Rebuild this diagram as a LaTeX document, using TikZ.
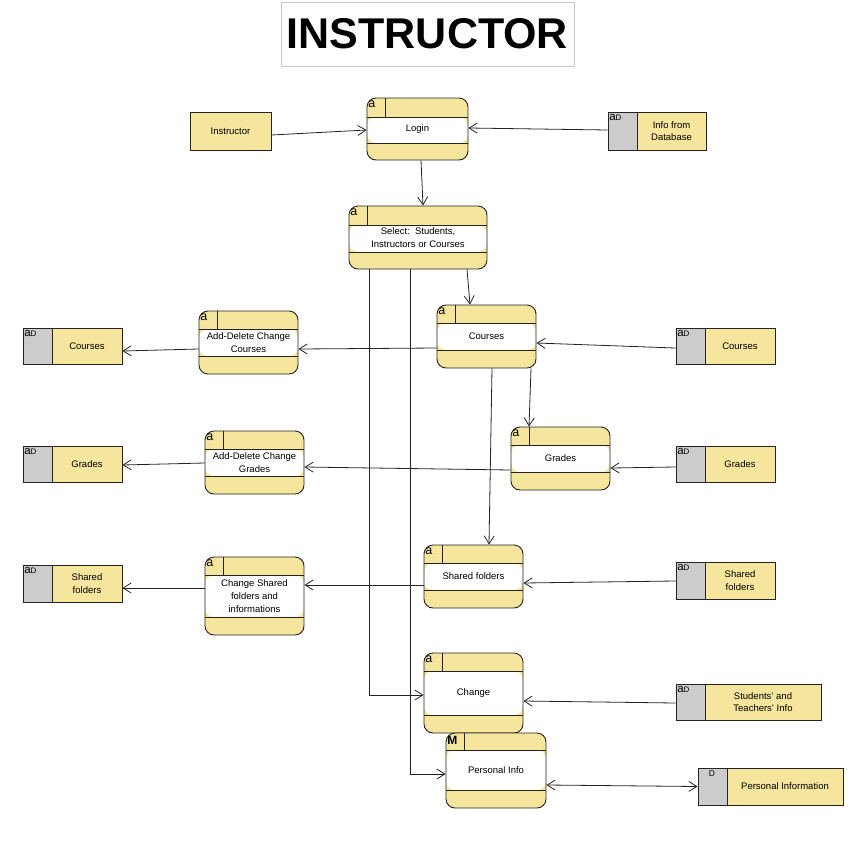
\documentclass[tikz,border=0pt]{standalone}
\usepackage{fontspec}
\setmainfont{Liberation Sans}
\usetikzlibrary{arrows.meta}

\definecolor{boxyellow}{RGB}{245,229,157}
\definecolor{cellgray}{RGB}{204,204,204}
\definecolor{linegray}{RGB}{35,35,35}

\tikzset{
  topband/.store in=\topband, topband=18pt,
  botband/.store in=\botband, botband=18pt,
  proc/.style={rectangle, rounded corners=9pt, draw=linegray, line width=0.9pt,
    fill=boxyellow, align=center, inner sep=0pt, font=\fontsize{9.5}{13}\selectfont,
    path picture={
      \fill[white] ([yshift=-\topband]path picture bounding box.north west)
        rectangle ([yshift=\botband]path picture bounding box.south east);
      \draw[linegray, line width=0.9pt] ([yshift=-\topband]path picture bounding box.north west)
        -- ([yshift=-\topband]path picture bounding box.north east);
      \draw[linegray, line width=0.9pt] ([yshift=\botband]path picture bounding box.south west)
        -- ([yshift=\botband]path picture bounding box.south east);
      \draw[linegray, line width=0.9pt] ([xshift=18.5pt]path picture bounding box.north west)
        -- ([xshift=18.5pt,yshift=-\topband]path picture bounding box.north west);
    }},
  store/.style={rectangle, draw=linegray, line width=0.9pt, fill=boxyellow, inner sep=0pt,
    path picture={
      \fill[cellgray] (path picture bounding box.north west)
        rectangle ([xshift=29pt]path picture bounding box.south west);
      \draw[linegray, line width=0.9pt] ([xshift=29pt]path picture bounding box.north west)
        -- ([xshift=29pt]path picture bounding box.south west);
    }},
  entity/.style={rectangle, draw=linegray, line width=0.9pt, fill=boxyellow, inner sep=0pt,
    font=\fontsize{9.5}{13}\selectfont},
  storetext/.style={align=center, inner sep=0pt, font=\fontsize{9.5}{12.5}\selectfont},
  ptag/.style={anchor=north west, inner xsep=1.5pt, inner ysep=3pt,
    font=\fontsize{12.5}{12.5}\selectfont},
  stag/.style={anchor=north west, inner xsep=1.5pt, inner ysep=3pt},
  flow/.style={linegray, line width=0.8pt, -{Straight Barb[length=8pt,width=10pt]}},
}

\newcommand{\aD}{{\fontsize{11.5}{11}\selectfont a}{\fontsize{8}{8}\selectfont D}}

\begin{document}
\begin{tikzpicture}[x=1pt, y=-1pt]
  \useasboundingbox (0,0) rectangle (854,860);

  \node[draw=black!22, line width=0.9pt, minimum width=293, minimum height=64,
        font=\fontsize{43}{43}\selectfont\bfseries] (title) at (427.5,34) {INSTRUCTOR};

  % processes
  \node[proc, topband=19pt, botband=17pt, minimum width=101, minimum height=62] (login) at (417.5,129) {Login};
  \node[ptag] (loginT) at (login.north west) {a};
  \node[proc, topband=19pt, botband=17pt, minimum width=138, minimum height=63] (select) at (418,237.5)
    {Select:\ \ Students,\\Instructors or Courses};
  \node[ptag] (selectT) at (select.north west) {a};
  \node[proc, minimum width=99, minimum height=63] (crsP) at (486.5,336.5) {Courses};
  \node[ptag] (crsPT) at (crsP.north west) {a};
  \node[proc, minimum width=99, minimum height=63] (adcC) at (248.5,342.5) {Add-Delete Change\\Courses};
  \node[ptag] (adcCT) at (adcC.north west) {a};
  \node[proc, minimum width=99, minimum height=63] (grdP) at (560.5,458.5) {Grades};
  \node[ptag] (grdPT) at (grdP.north west) {a};
  \node[proc, minimum width=99, minimum height=63] (adcG) at (254.5,462.5) {Add-Delete Change\\Grades};
  \node[ptag] (adcGT) at (adcG.north west) {a};
  \node[proc, minimum width=99, minimum height=63] (shP) at (473.5,576.5) {Shared folders};
  \node[ptag] (shPT) at (shP.north west) {a};
  \node[proc, minimum width=99, minimum height=78] (chSh) at (254.5,596)
    {Change Shared\\folders and\\informations};
  \node[ptag] (chShT) at (chSh.north west) {a};
  \node[proc, minimum width=99, minimum height=80] (change) at (473.5,693) {Change};
  \node[ptag] (changeT) at (change.north west) {a};
  \node[proc, topband=17pt, minimum width=100, minimum height=75] (pinfo) at (496,770.5) {Personal Info};
  \node[ptag, font=\fontsize{12}{12}\selectfont\bfseries] (pinfoT) at (pinfo.north west) {M};

  % external entity and stores
  \node[entity, minimum width=81, minimum height=38] (instr) at (230.5,131) {Instructor};

  \node[store, minimum width=98, minimum height=38] (infoDB) at (657,131) {};
  \node[stag] (infoDBT) at (infoDB.north west) {\aD};
  \node[storetext] (infoDBX) at ([xshift=14.5pt]infoDB.center) {Info from\\Database};

  \node[store, minimum width=99, minimum height=36] (crsL) at (72.5,346) {};
  \node[stag] (crsLT) at (crsL.north west) {\aD};
  \node[storetext] (crsLX) at ([xshift=14.5pt]crsL.center) {Courses};
  \node[store, minimum width=99, minimum height=36] (grdL) at (72.5,464) {};
  \node[stag] (grdLT) at (grdL.north west) {\aD};
  \node[storetext] (grdLX) at ([xshift=14.5pt]grdL.center) {Grades};
  \node[store, minimum width=99, minimum height=37] (shL) at (72.5,583.5) {};
  \node[stag] (shLT) at (shL.north west) {\aD};
  \node[storetext] (shLX) at ([xshift=14.5pt]shL.center) {Shared\\folders};

  \node[store, minimum width=99, minimum height=36] (crsR) at (725.5,346) {};
  \node[stag] (crsRT) at (crsR.north west) {\aD};
  \node[storetext] (crsRX) at ([xshift=14.5pt]crsR.center) {Courses};
  \node[store, minimum width=99, minimum height=36] (grdR) at (725.5,464) {};
  \node[stag] (grdRT) at (grdR.north west) {\aD};
  \node[storetext] (grdRX) at ([xshift=14.5pt]grdR.center) {Grades};
  \node[store, minimum width=99, minimum height=37] (shR) at (725.5,580.5) {};
  \node[stag] (shRT) at (shR.north west) {\aD};
  \node[storetext] (shRX) at ([xshift=14.5pt]shR.center) {Shared\\folders};

  \node[store, minimum width=145, minimum height=36] (stInfo) at (748.5,702) {};
  \node[stag] (stInfoT) at (stInfo.north west) {\aD};
  \node[storetext] (stInfoX) at ([xshift=14.5pt]stInfo.center) {Students' and\\Teachers' Info};
  \node[store, minimum width=145, minimum height=37] (pInfoDB) at (770.5,786.5) {};
  \node[stag, anchor=north, font=\fontsize{8.5}{8.5}\selectfont] (pInfoDBT) at ([xshift=14.5pt]pInfoDB.north west) {D};
  \node[storetext] (pInfoDBX) at ([xshift=14.5pt]pInfoDB.center) {Personal Information};

  % flows
  \draw[flow] ([yshift=-4pt]instr.east) -- ([yshift=-1pt]login.west);
  \draw[flow] ([yshift=1pt]infoDB.west) -- ([yshift=1pt]login.east);
  \draw[flow] ([xshift=3.5pt]login.south) -- ([xshift=5pt]select.north);
  \draw[flow] ([xshift=49pt]select.south) -- ([xshift=-16.5pt]crsP.north);
  \draw[flow] ([yshift=-11.5pt]crsP.west) -- ([yshift=-6.5pt]adcC.east);
  \draw[flow] ([yshift=-6.5pt]adcC.west) -- ([yshift=-5pt]crsL.east);
  \draw[flow] ([yshift=-2pt]crsR.west) -- ([yshift=-6.5pt]crsP.east);
  \draw[flow] ([xshift=44.5pt]crsP.south) -- ([xshift=-31.5pt]grdP.north);
  \draw[flow] ([yshift=-3pt]grdR.west) -- ([yshift=-9.5pt]grdP.east);
  \draw[flow] ([yshift=-11.5pt]grdP.west) -- ([yshift=-4.5pt]adcG.east);
  \draw[flow] ([yshift=-0.5pt]adcG.west) -- ([yshift=-1pt]grdL.east);
  \draw[flow] ([xshift=5.5pt]crsP.south) -- ([xshift=15.5pt]shP.north);
  \draw[flow] ([yshift=-0.5pt]shR.west) -- ([yshift=-6.5pt]shP.east);
  \draw[flow] ([yshift=-8.5pt]shP.west) -- ([yshift=11pt]chSh.east);
  \draw[flow] ([yshift=8pt]chSh.west) -- ([yshift=-4.5pt]shL.east);
  \draw[flow] ([xshift=-49pt]select.south) |- ([yshift=-2pt]change.west);
  \draw[flow] ([xshift=-8pt]select.south) |- ([yshift=-3.5pt]pinfo.west);
  \draw[flow] ([yshift=-1pt]stInfo.west) -- ([yshift=-8pt]change.east);
  \draw[flow, {Straight Barb[length=8pt,width=10pt]}-{Straight Barb[length=8pt,width=10pt]}]
    ([yshift=-14.5pt]pinfo.east) -- (pInfoDB.west);
\end{tikzpicture}
\end{document}
